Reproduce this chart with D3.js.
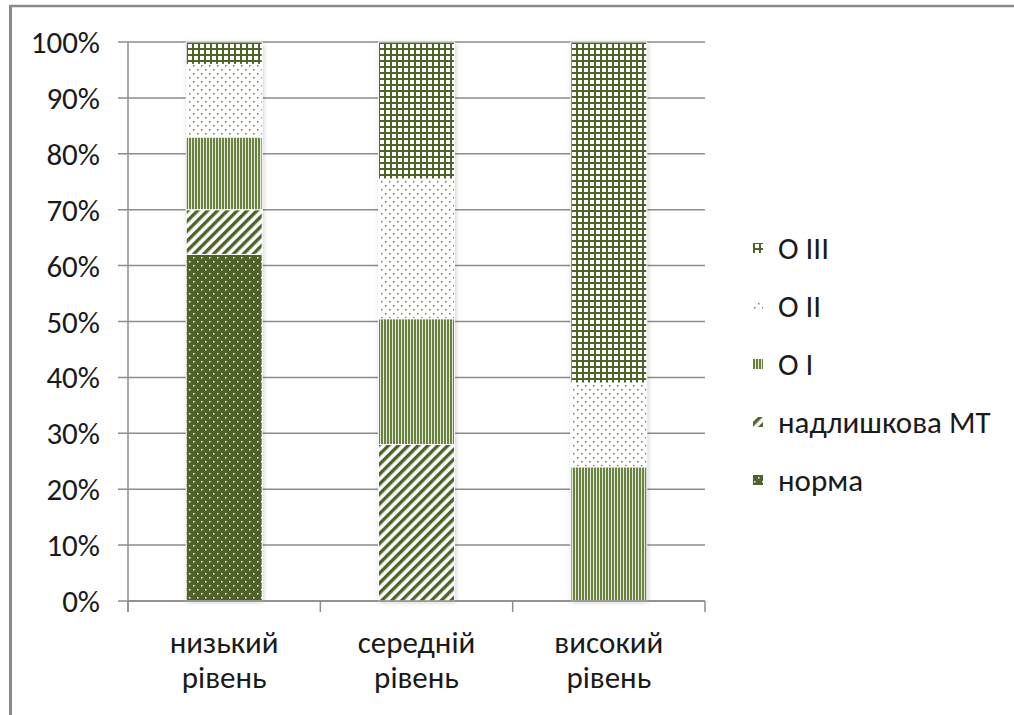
<!DOCTYPE html>
<html>
<head>
<meta charset="utf-8">
<script src="https://cdn.jsdelivr.net/npm/d3@7"></script>
<style>
  html, body { margin: 0; padding: 0; background: #fff; }
  svg { display: block; }
  text { font-family: Carlito, Lato, "Noto Sans", sans-serif; fill: #1a1a1a; }
</style>
</head>
<body>
<svg id="chart" width="1014" height="715"></svg>
<script>
// Categories (two-line labels) and stacked shares per level
const categories = ["низький рівень", "середній рівень", "високий рівень"];
const seriesNames = ["норма", "надлишкова МТ", "О I", "О II", "О III"];
const norma      = [0.62, 0.00, 0.00];
const nadlyshkova = [0.08, 0.28, 0.00];
const o1         = [0.13, 0.225, 0.24];
const o2         = [0.13, 0.25, 0.15];
const o3         = [0.04, 0.245, 0.61];
const yTicks = [0, 0.1, 0.2, 0.3, 0.4, 0.5, 0.6, 0.7, 0.8, 0.9, 1.0];

const seriesValues = [norma, nadlyshkova, o1, o2, o3];
const patternIds = ["p-norma", "p-diag", "p-vert", "p-dots", "p-grid"];

const svg = d3.select("#chart");
const green = "#4f6228";
const fontSize = 31;

// ---- fill patterns ----
const defs = svg.append("defs");

// dark fill with white dots
let p = defs.append("pattern").attr("id", "p-norma").attr("patternUnits", "userSpaceOnUse")
  .attr("width", 8).attr("height", 8);
p.append("rect").attr("width", 8).attr("height", 8).attr("fill", green);
p.append("rect").attr("x", 1).attr("y", 1).attr("width", 1.5).attr("height", 1.5).attr("fill", "#fff");
p.append("rect").attr("x", 5).attr("y", 5).attr("width", 1.5).attr("height", 1.5).attr("fill", "#fff");

// wide upward diagonal stripes
p = defs.append("pattern").attr("id", "p-diag").attr("patternUnits", "userSpaceOnUse")
  .attr("width", 7).attr("height", 7).attr("patternTransform", "rotate(45)");
p.append("rect").attr("width", 7).attr("height", 7).attr("fill", "#fff");
p.append("rect").attr("width", 3.4).attr("height", 7).attr("fill", green);

// narrow vertical lines
p = defs.append("pattern").attr("id", "p-vert").attr("patternUnits", "userSpaceOnUse")
  .attr("width", 3).attr("height", 3);
p.append("rect").attr("width", 3).attr("height", 3).attr("fill", "#e4e9da");
p.append("rect").attr("width", 2).attr("height", 3).attr("fill", "#6a8240");

// sparse dots on white
p = defs.append("pattern").attr("id", "p-dots").attr("patternUnits", "userSpaceOnUse")
  .attr("width", 8).attr("height", 8);
p.append("rect").attr("width", 8).attr("height", 8).attr("fill", "#fff");
p.append("rect").attr("x", 1).attr("y", 1).attr("width", 1.5).attr("height", 1.5).attr("fill", "#6a8240");
p.append("rect").attr("x", 5).attr("y", 5).attr("width", 1.5).attr("height", 1.5).attr("fill", "#6a8240");

// small grid
p = defs.append("pattern").attr("id", "p-grid").attr("patternUnits", "userSpaceOnUse")
  .attr("width", 6).attr("height", 6);
p.append("rect").attr("width", 6).attr("height", 6).attr("fill", "#fff");
p.append("rect").attr("width", 6).attr("height", 2).attr("fill", green);
p.append("rect").attr("width", 2).attr("height", 6).attr("fill", green);

// soft shadow around bars
const f = defs.append("filter").attr("id", "shadow")
  .attr("x", "-30%").attr("y", "-5%").attr("width", "160%").attr("height", "110%");
f.append("feDropShadow").attr("dx", 1).attr("dy", 1).attr("stdDeviation", 2.5)
  .attr("flood-color", "#000").attr("flood-opacity", 0.22);

// ---- outer frame (top and left edges) ----
svg.append("line").attr("x1", 10).attr("x2", 1014).attr("y1", 6).attr("y2", 6)
  .attr("stroke", "#8a8a8a").attr("stroke-width", 2.5);
svg.append("line").attr("x1", 10.5).attr("x2", 10.5).attr("y1", 5).attr("y2", 715)
  .attr("stroke", "#8a8a8a").attr("stroke-width", 3);

// ---- scales ----
const plotLeft = 128, plotRight = 705, plotTop = 42, plotBottom = 601;
const x = d3.scaleBand().domain(categories).range([plotLeft, plotRight]).padding(0);
const y = d3.scaleLinear().domain([0, 1]).range([plotBottom, plotTop]);
const barW = x.bandwidth() * 0.395;

// gridlines + y ticks
const gridG = svg.append("g");
gridG.selectAll("line").data(yTicks).join("line")
  .attr("x1", plotLeft - 10).attr("x2", plotRight)
  .attr("y1", d => y(d)).attr("y2", d => y(d))
  .attr("stroke", "#8c8c8c").attr("stroke-width", 1.5);

const yAxis = d3.axisLeft(y).tickValues(yTicks).tickFormat(d3.format(".0%")).tickSize(0).tickPadding(28);
const yG = svg.append("g").attr("transform", `translate(${plotLeft},0)`).call(yAxis);
yG.select(".domain").remove();
yG.selectAll("text").attr("font-size", fontSize).attr("font-family", null).attr("fill", "#1a1a1a").attr("dy", "0.34em");

// y axis line
svg.append("line").attr("x1", plotLeft).attr("x2", plotLeft)
  .attr("y1", plotTop).attr("y2", plotBottom + 11)
  .attr("stroke", "#8c8c8c").attr("stroke-width", 1.5);

// ---- stacked bars ----
const rows = categories.map((c, i) => {
  const r = { cat: c };
  seriesNames.forEach((s, j) => r[s] = seriesValues[j][i]);
  return r;
});
const stack = d3.stack().keys(seriesNames)(rows);

const barsG = svg.append("g");
// shadow silhouettes beneath the stacks
barsG.selectAll("rect.sh").data(rows).join("rect").attr("class", "sh")
  .attr("x", d => x(d.cat) + (x.bandwidth() - barW) / 2)
  .attr("width", barW)
  .attr("y", d => y(d3.sum(seriesNames, s => d[s])))
  .attr("height", d => y(0) - y(d3.sum(seriesNames, s => d[s])))
  .attr("fill", "#fff").attr("filter", "url(#shadow)");

stack.forEach((layer, j) => {
  barsG.append("g").selectAll("rect").data(layer.filter(d => d[1] - d[0] > 0)).join("rect")
    .attr("x", d => x(d.data.cat) + (x.bandwidth() - barW) / 2)
    .attr("width", barW)
    .attr("y", d => y(d[1]))
    .attr("height", d => y(d[0]) - y(d[1]))
    .attr("fill", `url(#${patternIds[j]})`)
    .attr("stroke", "#fff").attr("stroke-width", 1);
});

// ---- x axis ----
svg.append("line").attr("x1", plotLeft).attr("x2", plotRight)
  .attr("y1", plotBottom).attr("y2", plotBottom)
  .attr("stroke", "#8c8c8c").attr("stroke-width", 1.5);
const xTickPos = [plotLeft, ...categories.map(c => x(c) + x.bandwidth())];
svg.append("g").selectAll("line").data(xTickPos).join("line")
  .attr("x1", d => d).attr("x2", d => d)
  .attr("y1", plotBottom).attr("y2", plotBottom + 11)
  .attr("stroke", "#8c8c8c").attr("stroke-width", 1.5);

const xl = svg.append("g").selectAll("text").data(categories).join("text")
  .attr("x", d => x(d) + x.bandwidth() / 2)
  .attr("text-anchor", "middle").attr("font-size", fontSize);
xl.each(function(d) {
  const parts = d.split(" ");
  d3.select(this).selectAll("tspan").data(parts).join("tspan")
    .attr("x", x(d) + x.bandwidth() / 2)
    .attr("y", (t, k) => 653 + k * 35)
    .text(t => t);
});

// ---- legend ----
const legendItems = seriesNames.map((s, j) => ({ name: s, pid: patternIds[j] })).reverse();
const lg = svg.append("g").selectAll("g").data(legendItems).join("g")
  .attr("transform", (d, i) => `translate(753, ${248 + i * 58})`);
lg.append("rect").attr("x", 0).attr("y", -5).attr("width", 10).attr("height", 10)
  .attr("fill", d => `url(#${d.pid})`);
lg.append("text").attr("x", 25).attr("y", 0).attr("dy", "0.34em")
  .attr("font-size", fontSize).text(d => d.name);
</script>
</body>
</html>
